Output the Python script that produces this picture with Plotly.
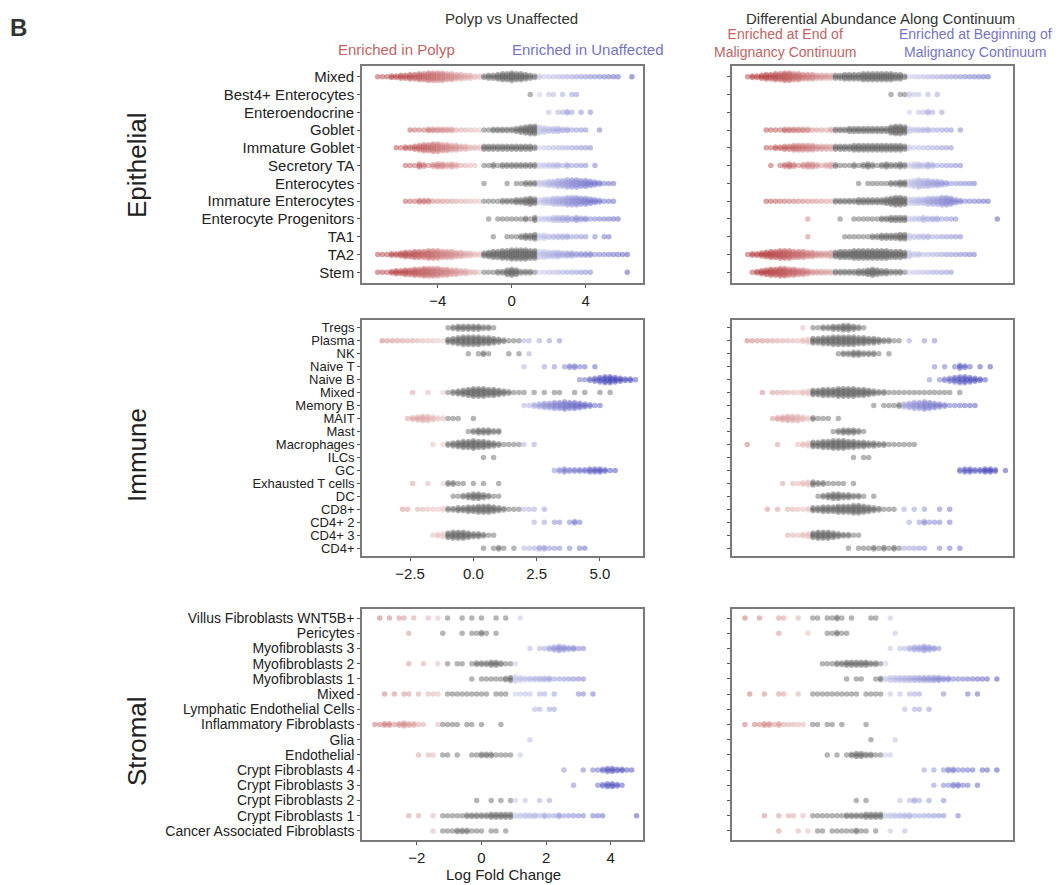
import plotly.graph_objects as go

# page size; the html body adds an 8 px margin at the top-left of the figure
PAGE_W, PAGE_H = 1064, 885
OFF = 8
W, H = PAGE_W - OFF, PAGE_H - OFF

# ---------------- categories ----------------
EPI_ROWS = ["Mixed", "Best4+ Enterocytes", "Enteroendocrine", "Goblet", "Immature Goblet",
            "Secretory TA", "Enterocytes", "Immature Enterocytes", "Enterocyte Progenitors",
            "TA1", "TA2", "Stem"]
IMM_ROWS = ["Tregs", "Plasma", "NK", "Naive T", "Naive B", "Mixed", "Memory B", "MAIT", "Mast",
            "Macrophages", "ILCs", "GC", "Exhausted T cells", "DC", "CD8+", "CD4+ 2", "CD4+ 3", "CD4+"]
STR_ROWS = ["Villus Fibroblasts WNT5B+", "Pericytes", "Myofibroblasts 3", "Myofibroblasts 2",
            "Myofibroblasts 1", "Mixed", "Lymphatic Endothelial Cells", "Inflammatory Fibroblasts",
            "Glia", "Endothelial", "Crypt Fibroblasts 4", "Crypt Fibroblasts 3", "Crypt Fibroblasts 2",
            "Crypt Fibroblasts 1", "Cancer Associated Fibroblasts"]

# ---------------- neighbourhood log-fold-change data ----------------
# each row: (first LFC value, number of neighbourhoods at each successive LFC step)
EPI_STEP = 0.25
IMM_STEP = 0.2
STR_STEP = 0.15

EPI_POLYP = {
    "Mixed": (-7.25, [1,1,1,2,2,3,3,4,4,5,5,6,6,6,6,5,5,4,4,3,3,2,2,2,3,3,4,5,5,6,5,5,4,3,2,2,1,1,1,1,1,1,1,1,1,1,1,1,1,1,1,1,1,0,0,1]),
    "Best4+ Enterocytes": (1.0, [1,0,1,0,1,1,0,1,0,1,1]),
    "Enteroendocrine": (2.0, [1,0,1,1,2,1,0,1,0,1]),
    "Goblet": (-5.5, [1,1,1,1,2,2,2,2,2,2,1,1,1,1,1,1,1,1,2,2,2,2,2,3,4,5,6,6,5,4,3,3,3,2,2,1,1,1,1,0,0,1]),
    "Immature Goblet": (-6.25, [1,1,2,2,3,4,5,5,6,6,5,5,4,4,3,3,2,2,2,3,3,3,3,3,3,3,3,3,3,3,2,1,1,1,1,1,1,1,1,1,1,1,1]),
    "Secretory TA": (-5.75, [1,1,1,3,2,1,2,3,3,2,3,2,1,1,1,1,0,1,1,2,1,2,2,2,2,2,2,2,2,2,2,2,2,2,1,2,1,1,1,1,0,1]),
    "Enterocytes": (-1.5, [1,0,0,0,0,1,0,1,1,2,2,2,3,3,4,4,5,5,6,6,6,5,5,4,3,2,1,1,1]),
    "Immature Enterocytes": (-5.75, [1,1,1,2,2,2,1,1,1,1,1,1,1,1,1,1,1,1,1,1,1,2,2,2,3,3,4,5,4,3,4,4,5,5,5,6,6,6,5,5,4,3,2,1,1,1]),
    "Enterocyte Progenitors": (-1.25, [1,0,1,1,1,1,1,1,2,1,3,2,2,2,3,3,3,3,2,3,2,2,1,1,1,1,1,1,1]),
    "TA1": (-1.0, [1,0,0,1,1,1,2,3,3,4,3,3,2,2,2,2,2,1,1,1,1,0,1,0,1,1]),
    "TA2": (-7.25, [1,1,1,2,2,3,4,4,5,5,5,6,6,6,5,5,5,4,4,3,3,2,2,3,4,5,5,6,6,7,7,7,7,6,6,5,5,4,4,4,3,3,3,2,2,2,2,1,1,1,1,1,1,1,1]),
    "Stem": (-7.25, [1,1,1,2,3,3,4,4,5,5,6,6,6,6,5,5,4,4,3,3,2,2,1,1,1,1,2,2,4,5,4,2,2,2,1,1,1,1,1,1,1,1,1,1,1,1,1,0,0,0,0,0,0,0,1]),
}
EPI_CONT = {
    "Mixed": (-7.25, [1,2,2,3,4,4,5,5,6,6,5,5,4,4,4,3,3,3,3,3,3,4,4,4,4,5,5,5,5,5,5,5,4,4,2,1,1,1,1,1,1,1,1,1,1,1,1,1,1,1,1,1,1]),
    "Best4+ Enterocytes": (0.5, [1,0,1,1,2,1,1,0,1,0,1]),
    "Enteroendocrine": (1.5, [1,0,1,1,2,1,0,1]),
    "Goblet": (-6.25, [1,1,1,1,2,2,2,2,2,2,1,1,1,1,2,2,2,2,3,3,3,3,3,3,3,3,3,5,6,6,5,3,2,2,2,2,1,1,1,1,1,0,1]),
    "Immature Goblet": (-6.25, [1,1,2,2,3,3,4,4,4,4,4,3,3,3,3,3,3,3,3,4,4,4,4,4,4,4,4,4,4,4,3,2,1,1,1,1,1,1,1,1,1]),
    "Secretory TA": (-6.0, [1,0,1,2,3,2,1,2,3,3,2,1,2,3,2,1,1,1,2,1,2,3,2,1,2,3,2,2,3,2,2,3,3,2,3,2,1,1,1,1,1,1]),
    "Enterocytes": (-1.25, [1,0,1,1,1,1,1,2,2,3,3,4,5,6,5,5,4,4,3,2,1,1,1,1,1,1]),
    "Immature Enterocytes": (-6.25, [1,1,1,1,1,1,1,1,1,1,1,1,1,1,1,2,2,2,2,2,3,3,3,3,3,3,4,5,6,6,5,4,4,4,4,5,5,5,6,6,5,3,2,1,1,1,1,1,1]),
    "Enterocyte Progenitors": (-4.0, [1,0,0,0,0,0,0,1,0,0,1,1,1,1,1,1,2,2,3,3,3,3,2,2,2,3,2,2,2,1,1,1,1,0,0,0,0,0,0,0,0,1]),
    "TA1": (-4.0, [1,0,0,0,0,0,0,0,1,1,1,1,1,1,2,2,3,3,3,3,4,4,3,2,2,2,2,1,1,1,1,1,1,1]),
    "TA2": (-7.25, [1,2,2,3,4,5,5,6,6,6,5,5,5,4,4,3,3,3,4,4,5,5,5,6,6,6,6,6,6,6,6,5,5,5,4,4,2,2,1,1,1,1,1,1,1,1,1,1,1,1]),
    "Stem": (-7.0, [1,2,3,4,5,5,6,6,5,5,4,4,3,2,2,2,2,2,2,2,2,2,2,3,3,4,5,4,3,3,2,2,2,1,1,1,1,1,1,1,1,1,1,1]),
}

IMM_POLYP = {
    "Tregs": (-1.0, [1,2,3,3,3,3,3,2,2,1]),
    "Plasma": (-3.6, [1,1,1,1,1,1,1,1,1,1,1,1,1,3,4,5,6,6,6,6,5,5,4,3,2,1,1,1,1,1,0,1,0,1,0,1]),
    "NK": (-0.2, [1,0,1,2,1,0,0,0,1,0,1,0,1]),
    "Naive T": (2.0, [1,0,0,0,1,0,1,0,1,2,2,1,1,0,1]),
    "Naive B": (4.2, [1,1,2,3,4,5,5,4,3,2,2,1]),
    "Mixed": (-2.4, [1,0,0,1,0,0,1,1,2,3,4,5,6,6,6,5,5,4,3,2,1,1,1,0,1,0,1,0,1,1,0,0,1,0,1,0,0,1,0,1]),
    "Memory B": (2.0, [1,1,2,3,4,4,5,5,6,5,5,4,3,2,1,1]),
    "MAIT": (-2.6, [1,2,3,4,4,3,2,2,1,1,1,0,0,1]),
    "Mast": (-0.2, [1,2,3,3,3,2,2]),
    "Macrophages": (-1.6, [1,0,1,2,3,4,5,5,6,5,5,4,3,2,1,1,1,1,1,0,1]),
    "ILCs": (0.4, [1,0,1]),
    "GC": (3.2, [1,2,3,2,2,2,2,3,3,3,2,1,1]),
    "Exhausted T cells": (-2.4, [1,0,0,1,0,0,1,2,2,1,1,0,1,0,1,0,0,1]),
    "DC": (-0.8, [1,1,2,3,4,4,3,2,1,1]),
    "CD8+": (-2.8, [1,1,0,1,1,1,1,1,2,2,2,3,3,4,4,5,5,5,4,3,2,1,1,1,1,1,1,0,1]),
    "CD4+ 2": (2.4, [1,0,1,0,1,1,0,1,2,1]),
    "CD4+ 3": (-1.6, [1,2,3,4,5,5,5,4,3,3,2,1,1]),
    "CD4+": (0.4, [1,0,1,2,1,0,1,0,1,1,1,2,2,1,1,1,0,1,0,1,1]),
}
IMM_CONT = {
    "Tregs": (-1.6, [1,0,1,1,2,2,3,3,4,4,3,2,1]),
    "Plasma": (-3.8, [1,1,1,1,1,1,1,1,1,1,1,2,3,4,4,5,5,6,6,6,6,6,5,5,4,4,3,2,2,1,1,0,1,0,0,1,0,1]),
    "NK": (-0.2, [1,2,2,3,3,2,2,2,1,0,1]),
    "Naive T": (3.6, [1,0,1,0,1,3,2,1,0,1,0,1]),
    "Naive B": (3.4, [1,0,1,2,3,4,5,5,4,3,2,1]),
    "Mixed": (-3.2, [1,0,1,1,1,1,1,1,2,3,4,4,5,5,5,6,6,6,6,5,5,4,3,2,2,1,1,1,1,1,1,1,1,1,1,1,1,1,0,1]),
    "Memory B": (1.2, [1,0,1,1,1,2,3,4,5,5,6,5,4,3,2,1,1,1,1,1,1]),
    "MAIT": (-2.8, [1,2,3,4,4,4,3,2,2,1,1,1,0,1]),
    "Mast": (-0.4, [1,2,3,3,3,2,1]),
    "Macrophages": (-3.8, [1,0,0,0,0,0,1,0,0,0,1,2,3,4,4,5,5,6,6,6,5,5,4,4,3,3,2,2,1,1,1,1,1,1]),
    "ILCs": (0.4, [1,0,1,1]),
    "GC": (4.6, [2,3,3,2,2,3,3,2,0,1]),
    "Exhausted T cells": (-2.4, [1,0,1,1,2,3,3,2,2,1,1,1,1,0,1]),
    "DC": (-1.0, [1,2,3,4,4,3,3,2,2,1,0,1]),
    "CD8+": (-3.0, [1,0,1,0,1,1,1,1,2,3,3,4,4,4,5,5,5,6,6,5,4,3,2,1,1,1,0,1,0,1,0,1,0,0,1,0,1]),
    "CD4+ 2": (2.6, [1,0,1,2,1,1,1,0,1]),
    "CD4+ 3": (-2.2, [1,1,1,2,3,4,5,5,5,4,3,2,2,1,1]),
    "CD4+": (0.2, [1,0,1,1,1,2,1,2,1,2,1,1,1,1,1,1,0,0,1,0,1,0,1]),
}

STR_POLYP = {
    "Villus Fibroblasts WNT5B+": (-3.15, [1,0,1,0,1,1,0,1,0,0,1,0,1,0,1,0,0,1,0,1,0,1,0,0,1,0,1,0,0,1]),
    "Pericytes": (-2.25, [1,0,0,0,0,0,0,1,0,0,0,1,0,1,1,2,1,0,1]),
    "Myofibroblasts 3": (1.5, [1,0,1,1,2,3,4,3,2,2,1,1]),
    "Myofibroblasts 2": (-2.25, [1,0,0,1,0,0,1,0,1,0,1,1,0,1,2,2,2,3,3,2,1,1,1]),
    "Myofibroblasts 1": (-0.3, [1,0,1,1,1,1,1,2,3,4,3,2,2,2,2,2,2,1,1,1,1,1,1,1]),
    "Mixed": (-3.0, [1,0,1,0,1,1,0,1,0,1,1,1,0,1,1,1,1,1,1,1,1,1,0,1,1,1,0,1,1,1,1,0,1,1,0,1,0,0,0,0,1,1,0,1]),
    "Lymphatic Endothelial Cells": (1.65, [1,1,0,1,1]),
    "Inflammatory Fibroblasts": (-3.3, [1,1,2,2,1,2,3,2,2,1,1,0,0,1,1,1,1,1,0,1,1,0,1,0,0,0,1]),
    "Glia": (1.5, [1]),
    "Endothelial": (-1.95, [1,0,1,1,0,1,1,0,1,0,0,1,1,2,2,2,1,1,1,1,0,1]),
    "Crypt Fibroblasts 4": (2.55, [1,0,0,0,1,0,1,1,2,3,3,2,2,1,1]),
    "Crypt Fibroblasts 3": (2.85, [1,0,0,0,0,1,2,3,3,2,1]),
    "Crypt Fibroblasts 2": (-0.15, [1,0,0,1,0,1,0,1,1,0,1,0,0,1,0,1]),
    "Crypt Fibroblasts 1": (-2.25, [1,0,1,0,0,1,0,1,1,1,1,1,2,2,2,2,2,3,3,3,3,3,2,2,2,2,2,1,2,1,1,2,1,1,1,1,1,0,1,1,1,0,0,0,0,0,0,1]),
    "Cancer Associated Fibroblasts": (-1.5, [1,0,1,1,1,2,2,2,1,1,1,0,1,1,0,1]),
}
STR_CONT = {
    "Villus Fibroblasts WNT5B+": (-3.3, [1,0,0,1,0,0,0,1,1,0,0,1,0,0,1,1,0,1,1,2,1,0,1,0,0,0,1,1,0,0,1]),
    "Pericytes": (-2.25, [1,0,0,0,0,0,1,0,0,0,1,1,2,1,1,0,0,0,0,0,0,0,0,0,1]),
    "Myofibroblasts 3": (1.2, [1,0,1,1,2,3,3,4,3,2,1]),
    "Myofibroblasts 2": (-0.9, [1,1,1,2,2,3,3,3,3,3,2,2,1,1]),
    "Myofibroblasts 1": (-0.15, [1,0,1,1,0,0,1,2,2,3,3,3,3,3,3,3,3,3,3,3,2,2,1,1,1,1,1,1,1,1,0,1]),
    "Mixed": (-3.15, [1,0,0,1,0,0,1,1,0,0,1,0,0,1,1,1,1,1,1,1,1,1,1,0,1,1,1,1,0,1,0,1,0,1,1,1,0,0,0,0,1,0,0,0,0,1,0,1]),
    "Lymphatic Endothelial Cells": (1.65, [1,0,1,1,0,1]),
    "Inflammatory Fibroblasts": (-3.3, [1,0,1,1,2,2,1,2,1,1,1,1,1,0,1,1,0,1,1,0,1,0,0,0,0,1]),
    "Glia": (0.6, [1,0,0,0,0,1]),
    "Endothelial": (-0.75, [1,0,1,0,1,2,3,3,2,2,1,1,1,1]),
    "Crypt Fibroblasts 4": (2.25, [1,0,1,0,1,2,2,1,1,1,1,0,1,1,0,1]),
    "Crypt Fibroblasts 3": (2.55, [1,0,1,1,2,2,1,1,0,1]),
    "Crypt Fibroblasts 2": (0.15, [1,0,1,0,0,0,0,0,0,1,0,1,2,1,0,1,0,0,1]),
    "Crypt Fibroblasts 1": (-2.7, [1,0,0,1,0,1,1,0,1,0,1,1,1,1,1,1,1,2,2,2,2,3,3,3,3,2,2,2,2,2,2,1,1,1,1,1,1,1,0,0,1]),
    "Cancer Associated Fibroblasts": (-2.25, [1,0,0,0,1,0,1,0,1,1,0,1,1,1,1,1,2,1,1,0,1,0,0,1,0,0,1]),
}

# significance limits: LFC outside (low, high) counts as significantly enriched
SIG = {
    "epi_polyp": (-1.6, 1.4), "epi_cont": (-2.5, 1.3),
    "imm_polyp": (-1.0, 1.8), "imm_cont": (-1.3, 2.3),
    "str_polyp": (-1.3, 1.0), "str_cont": (-1.3, 1.0),
}
SIG_ROW = {
    "imm_polyp": {"Mixed": (-1.0, 99)},
    "imm_cont": {"Mixed": (-1.3, 99), "Macrophages": (-1.3, 99)},
}

# ---------------- styling ----------------
FONT = "Liberation Sans, Arial, sans-serif"
GREY = (92, 92, 92)
RED = (172, 42, 44)
BLUE = (52, 52, 178)
DY_PX = 1.5

def px_x(p):
    return (p - OFF) / W

def px_y(p):
    return 1 - (p - OFF) / H

def colour(v, lo, hi, lim):
    if lo <= v <= hi:
        c = GREY
    else:
        t = min(1.0, abs(v) / lim) ** 0.8
        ext = RED if v < 0 else BLUE
        c = tuple(round(255 + (e - 255) * t) for e in ext)
    return "rgb(%d,%d,%d)" % c

def swarm(rows, data, step, key, lim, row_px):
    xs, ys, cs = [], [], []
    lo_def, hi_def = SIG[key]
    over = SIG_ROW.get(key, {})
    for i, name in enumerate(rows):
        if name not in data:
            continue
        start, counts = data[name]
        lo, hi = over.get(name, (lo_def, hi_def))
        for j, n in enumerate(counts):
            v = round(start + j * step, 4)
            col = colour(v, lo, hi, lim)
            for k in range(n):
                off = (k - (n - 1) / 2) * DY_PX / row_px
                xs.append(v)
                ys.append(i + off)
                cs.append(col)
    return xs, ys, cs

XL = [362, 643]
XR = [732, 1013]
YB = {"epi": (66, 283), "imm": (320, 556), "str": (609, 840)}
XRANGE = {"epi": [-8.1, 7.1], "imm": [-4.4, 6.7], "str": [-3.7, 5.0]}
LIM = {"epi": 6.5, "imm": 5.5, "str": 4.5}
YFONT = {"epi": 15, "imm": 13, "str": 14}
XTICKS = {"epi": ([-4, 0, 4], ["\u22124", "0", "4"]),
          "imm": ([-2.5, 0, 2.5, 5], ["\u22122.5", "0.0", "2.5", "5.0"]),
          "str": ([-2, 0, 2, 4], ["\u22122", "0", "2", "4"])}

panels = [
    ("epi", EPI_ROWS, EPI_POLYP, EPI_STEP, "epi_polyp", XL),
    ("epi", EPI_ROWS, EPI_CONT, EPI_STEP, "epi_cont", XR),
    ("imm", IMM_ROWS, IMM_POLYP, IMM_STEP, "imm_polyp", XL),
    ("imm", IMM_ROWS, IMM_CONT, IMM_STEP, "imm_cont", XR),
    ("str", STR_ROWS, STR_POLYP, STR_STEP, "str_polyp", XL),
    ("str", STR_ROWS, STR_CONT, STR_STEP, "str_cont", XR),
]

fig = go.Figure()
layout = {}
for idx, (grp, rows, data, step, key, xdom) in enumerate(panels, start=1):
    top, bot = YB[grp]
    n = len(rows)
    row_px = (bot - top) / (n + 0.2)
    xs, ys, cs = swarm(rows, data, step, key, LIM[grp], row_px)
    sfx = "" if idx == 1 else str(idx)
    fig.add_trace(go.Scatter(
        x=xs, y=ys, mode="markers", xaxis="x" + sfx, yaxis="y" + sfx,
        marker=dict(size=5.5, color=cs, opacity=0.45, line=dict(width=0)),
        hoverinfo="x", showlegend=False))
    left = xdom is XL
    tv, tt = XTICKS[grp]
    layout["xaxis" + sfx] = dict(
        domain=[px_x(xdom[0]), px_x(xdom[1])], anchor="y" + sfx,
        range=XRANGE[grp], showgrid=False, zeroline=False,
        showline=True, mirror=True, linecolor="#7a7a7a", linewidth=1.6,
        tickvals=tv if left else [], ticktext=tt if left else [],
        ticks="outside" if left else "", ticklen=3, tickcolor="#555",
        showticklabels=left, tickfont=dict(size=15, color="#222", family=FONT))
    layout["yaxis" + sfx] = dict(
        domain=[px_y(bot), px_y(top)], anchor="x" + sfx,
        range=[n - 1 + 0.6, -0.6], showgrid=False, zeroline=False,
        showline=True, mirror=True, linecolor="#7a7a7a", linewidth=1.6,
        tickvals=list(range(n)), ticktext=rows, ticks="outside", ticklen=3,
        tickcolor="#555", showticklabels=left,
        tickfont=dict(size=YFONT[grp], color="#222", family=FONT))

RED_TXT = "#c06464"
BLUE_TXT = "#7474c4"
ann = [
    dict(text="<b>B</b>", x=18, y=27, size=24, color="#333"),
    dict(text="Polyp vs Unaffected", x=511, y=19, size=15, color="#333"),
    dict(text="Differential Abundance Along Continuum", x=880, y=19, size=15, color="#333"),
    dict(text="Enriched in Polyp", x=396, y=49, size=15, color=RED_TXT),
    dict(text="Enriched in Unaffected", x=588, y=49, size=15, color=BLUE_TXT),
    dict(text="Enriched at End of<br>Malignancy Continuum", x=785, y=43, size=14, color=RED_TXT),
    dict(text="Enriched at Beginning of<br>Malignancy Continuum", x=975, y=43, size=14, color=BLUE_TXT),
    dict(text="Log Fold Change", x=503, y=874, size=15, color="#222"),
]
annotations = [dict(text=a["text"], x=px_x(a["x"]), y=px_y(a["y"]), xref="paper", yref="paper",
                    xanchor="center", yanchor="middle", showarrow=False,
                    font=dict(size=a["size"], color=a["color"], family=FONT)) for a in ann]
for txt, yc in [("Epithelial", 165), ("Immune", 455), ("Stromal", 741)]:
    annotations.append(dict(text=txt, x=px_x(137), y=px_y(yc), xref="paper", yref="paper",
                            xanchor="center", yanchor="middle", showarrow=False, textangle=-90,
                            font=dict(size=26, color="#222", family=FONT)))

fig.update_layout(width=W, height=H, margin=dict(l=0, r=0, t=0, b=0),
                  paper_bgcolor="white", plot_bgcolor="white",
                  font=dict(family=FONT, size=15, color="#222"),
                  annotations=annotations, **layout)
fig.write_html("out.html")
